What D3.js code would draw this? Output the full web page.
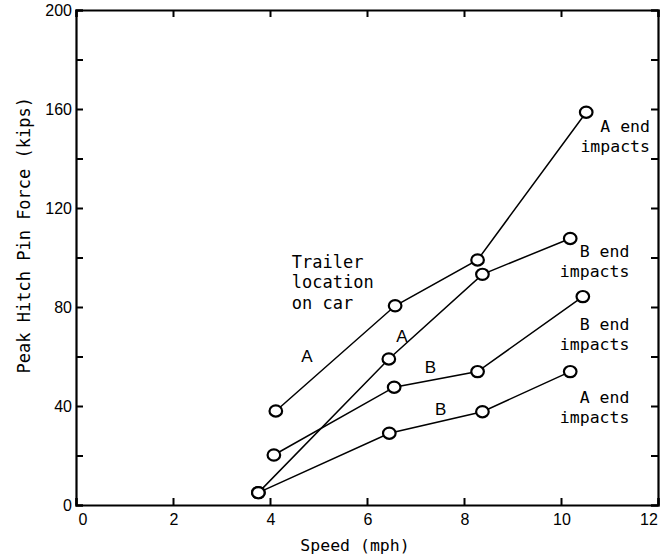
<!DOCTYPE html>
<html>
<head>
<meta charset="utf-8">
<script src="https://cdn.jsdelivr.net/npm/d3@7"></script>
<style>
  html, body { margin: 0; padding: 0; background: #fff; }
  svg { display: block; }
</style>
</head>
<body>
<svg id="chart" width="670" height="559"></svg>
<script>
// ---- data ----
const xTicks = [0, 2, 4, 6, 8, 10, 12];
const yTicks = [0, 40, 80, 120, 160, 200];
const yMinorTicks = [0, 20, 40, 60, 80, 100, 120, 140, 160, 180, 200];

// Trailer location A
const trailerA_AEnd_speed = [4.12, 6.58, 8.28, 10.52];
const trailerA_AEnd_force = [38, 80.5, 99, 158.7];
const trailerA_BEnd_speed = [3.76, 6.45, 8.38, 10.19];
const trailerA_BEnd_force = [5, 59, 93.2, 107.7];
// Trailer location B
const trailerB_BEnd_speed = [4.08, 6.56, 8.28, 10.45];
const trailerB_BEnd_force = [20.2, 47.6, 53.9, 84.2];
const trailerB_AEnd_speed = [3.76, 6.46, 8.38, 10.19];
const trailerB_AEnd_force = [5, 29, 37.7, 53.9];

const seriesList = [
  { speed: trailerA_AEnd_speed, force: trailerA_AEnd_force },
  { speed: trailerA_BEnd_speed, force: trailerA_BEnd_force },
  { speed: trailerB_BEnd_speed, force: trailerB_BEnd_force },
  { speed: trailerB_AEnd_speed, force: trailerB_AEnd_force }
];

// ---- layout ----
const svg = d3.select("#chart");
const x = d3.scaleLinear().domain([0, 12]).range([76, 658]);
const y = d3.scaleLinear().domain([0, 200]).range([505, 10]);
const tickLen = 7;
const monoFont = "'DejaVu Sans Mono', monospace";
const sansFont = "'Liberation Sans', Arial, sans-serif";

// frame axes
const gB = svg.append("g").attr("transform", `translate(0,${y(0)})`)
  .call(d3.axisTop(x).tickValues(xTicks).tickSize(tickLen).tickFormat(""));
const gT = svg.append("g").attr("transform", `translate(0,${y(200)})`)
  .call(d3.axisBottom(x).tickValues(xTicks).tickSize(tickLen).tickFormat(""));
const gL = svg.append("g").attr("transform", `translate(${x(0)},0)`)
  .call(d3.axisRight(y).tickValues(yMinorTicks).tickSize(tickLen).tickFormat(""));
const gR = svg.append("g").attr("transform", `translate(${x(12)},0)`)
  .call(d3.axisLeft(y).tickValues(yMinorTicks).tickSize(tickLen).tickFormat(""));
[gB, gT, gL, gR].forEach(g => {
  g.select(".domain").attr("stroke", "#000").attr("stroke-width", 2.2);
  g.selectAll(".tick line").attr("stroke", "#000").attr("stroke-width", 2);
});

// tick labels
svg.append("g").selectAll("text").data(xTicks).join("text")
  .attr("x", d => x(d) + (d === 0 ? 7 : d === 12 ? -9 : 1))
  .attr("y", y(0) + 20)
  .attr("text-anchor", "middle")
  .attr("font-family", sansFont).attr("font-size", 16)
  .text(d => d);
svg.append("g").selectAll("text").data(yTicks).join("text")
  .attr("x", x(0) - 4)
  .attr("y", d => y(d) + 6)
  .attr("text-anchor", "end")
  .attr("font-family", sansFont).attr("font-size", 16)
  .text(d => d);

// axis titles
svg.append("text")
  .attr("x", 355).attr("y", 551)
  .attr("text-anchor", "middle")
  .attr("font-family", monoFont).attr("font-size", 16.5)
  .text("Speed (mph)");
svg.append("text")
  .attr("transform", `translate(30,${y(109)}) rotate(-90)`)
  .attr("text-anchor", "middle")
  .attr("font-family", monoFont).attr("font-size", 17)
  .text("Peak Hitch Pin Force (kips)");

// lines
const line = d3.line().x(d => x(d[0])).y(d => y(d[1]));
seriesList.forEach(s => {
  const pts = s.speed.map((v, i) => [v, s.force[i]]);
  svg.append("path").datum(pts)
    .attr("d", line)
    .attr("fill", "none").attr("stroke", "#000").attr("stroke-width", 1.5);
});
seriesList.forEach(s => {
  const pts = s.speed.map((v, i) => [v, s.force[i]]);
  svg.append("g").selectAll("ellipse").data(pts).join("ellipse")
    .attr("cx", d => x(d[0])).attr("cy", d => y(d[1]))
    .attr("rx", 6.3).attr("ry", 5.6)
    .attr("fill", "#fff").attr("stroke", "#000").attr("stroke-width", 2.2);
});

// annotations (positions in data units)
const trailerNote = svg.append("text")
  .attr("x", x(4.45)).attr("y", y(95.8))
  .attr("font-family", monoFont).attr("font-size", 17);
["Trailer", "location", "on car"].forEach((t, i) => {
  trailerNote.append("tspan").attr("x", x(4.45)).attr("dy", i === 0 ? 0 : 20.5).text(t);
});

const letterLabels = [
  { t: "A", sx: 4.76, fy: 57.9 },
  { t: "A", sx: 6.72, fy: 66.0 },
  { t: "B", sx: 7.31, fy: 53.5 },
  { t: "B", sx: 7.52, fy: 36.4 }
];
svg.append("g").selectAll("text").data(letterLabels).join("text")
  .attr("x", d => x(d.sx)).attr("y", d => y(d.fy))
  .attr("text-anchor", "middle")
  .attr("font-family", sansFont).attr("font-size", 17)
  .text(d => d.t);

const endLabels = [
  { l1: "A end", sx: 11.835, fy: 150.8 },
  { l1: "B end", sx: 11.41, fy: 100.3 },
  { l1: "B end", sx: 11.41, fy: 70.7 },
  { l1: "A end", sx: 11.41, fy: 41.1 }
];
endLabels.forEach(d => {
  const t = svg.append("text")
    .attr("x", x(d.sx)).attr("y", y(d.fy))
    .attr("text-anchor", "end")
    .attr("font-family", monoFont).attr("font-size", 16.5);
  t.append("tspan").attr("x", x(d.sx)).attr("dy", 0).text(d.l1);
  t.append("tspan").attr("x", x(d.sx)).attr("dy", 20).text("impacts");
});
</script>
</body>
</html>
